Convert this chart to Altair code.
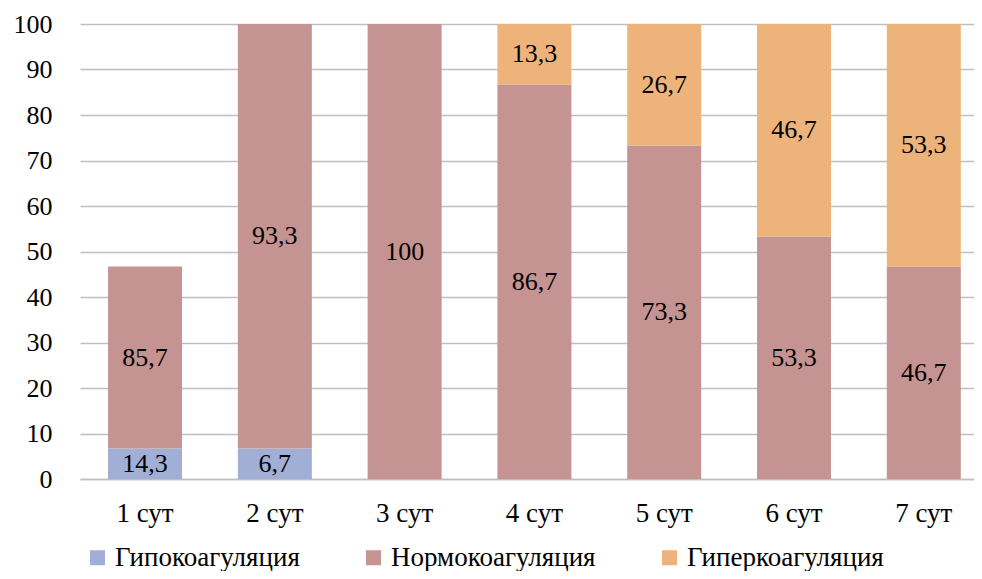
import altair as alt
import pandas as pd

days = ["1 сут", "2 сут", "3 сут", "4 сут", "5 сут", "6 сут", "7 сут"]
series = ["Гипокоагуляция", "Нормокоагуляция", "Гиперкоагуляция"]
hypo = [6.7, 6.7, 0, 0, 0, 0, 0]
normo = [40.0, 93.3, 100, 86.7, 73.3, 53.3, 46.7]
hyper = [0, 0, 0, 13.3, 26.7, 46.7, 53.3]
hypo_lbl = ["14,3", "6,7", "", "", "", "", ""]
normo_lbl = ["85,7", "93,3", "100", "86,7", "73,3", "53,3", "46,7"]
hyper_lbl = ["", "", "", "13,3", "26,7", "46,7", "53,3"]
colors = ["#A1AED5", "#C59391", "#EEB37A"]

rows = []
for si, (s, vals, lbls) in enumerate(zip(series, [hypo, normo, hyper], [hypo_lbl, normo_lbl, hyper_lbl])):
    for d, v, l in zip(days, vals, lbls):
        rows.append({"day": d, "series": s, "order": si, "value": v, "label": l})
df = pd.DataFrame(rows)

FONT = "Liberation Serif"

base = alt.Chart(df).transform_stack(
    stack="value", groupby=["day"], sort=[alt.SortField("order")], as_=["y0", "y1"]
).transform_calculate(mid="(datum.y0 + datum.y1) / 2")

xenc = alt.X("day:N", sort=days,
             scale=alt.Scale(paddingInner=0.43, paddingOuter=0.159, align=0.68),
             axis=alt.Axis(title=None, labelAngle=0, ticks=False, domain=True,
                           domainColor="#BFBFBF", domainWidth=1.5, grid=False,
                           labelFont=FONT, labelFontSize=27, labelColor="black",
                           labelPadding=21))

bars = base.transform_filter("datum.value > 0").mark_bar().encode(
    x=xenc,
    y=alt.Y("y0:Q", scale=alt.Scale(domain=[0, 100]),
            axis=alt.Axis(title=None, values=list(range(0, 101, 10)), grid=True,
                          gridColor="#BFBFBF", gridWidth=1.5, domain=False, ticks=False,
                          labelFont=FONT, labelFontSize=26, labelColor="black",
                          labelPadding=28)),
    y2="y1:Q",
    color=alt.Color("series:N", scale=alt.Scale(domain=series, range=colors),
                    legend=alt.Legend(title=None, orient="none", legendX=4, legendY=520,
                                      direction="horizontal", symbolType="square",
                                      symbolSize=225, symbolStrokeWidth=0,
                                      labelFont=FONT, labelFontSize=27, labelColor="black",
                                      columnPadding=60, labelOffset=4, labelLimit=0)),
)

texts = base.transform_filter("datum.label != ''").mark_text(
    font=FONT, fontSize=26, color="black", baseline="middle"
).encode(x=alt.X("day:N", sort=days), y="mid:Q", text="label:N")

chart = (bars + texts).properties(
    width=894, height=455,
    autosize=alt.AutoSizeParams(type="none"),
    padding={"left": 72, "top": 16, "right": 0, "bottom": 92},
).configure_view(stroke=None)

chart.save("out.html", embed_options={"renderer": "svg", "actions": False})
